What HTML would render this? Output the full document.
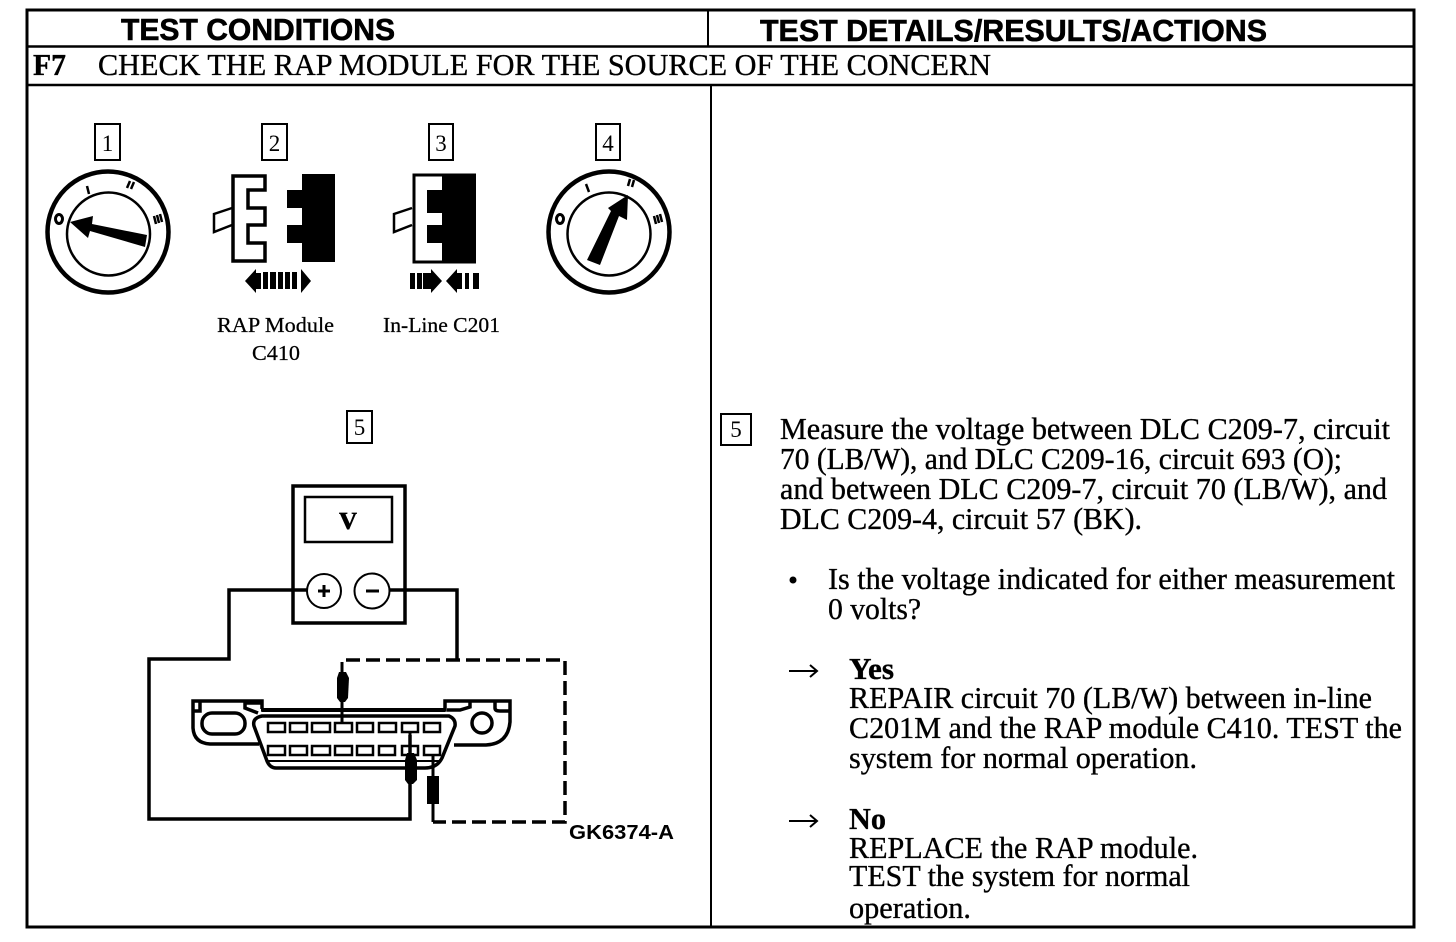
<!DOCTYPE html>
<html><head><meta charset="utf-8">
<style>
html,body{margin:0;padding:0;background:#fff;width:1456px;height:942px;overflow:hidden}
svg{display:block}
.t{font-family:"Liberation Serif",serif;font-size:30.5px;fill:#000;stroke:#000;stroke-width:.35}
.s{font-family:"Liberation Serif",serif;font-size:21.5px;fill:#000;stroke:#000;stroke-width:.25}
.h{font-family:"Liberation Sans",sans-serif;font-weight:bold;font-size:31px;fill:#000;stroke:#000;stroke-width:.6}
.n{font-family:"Liberation Serif",serif;font-size:23px;fill:#000;text-anchor:middle}
.l{fill:none;stroke:#000}
</style></head><body>
<svg width="1456" height="942" viewBox="0 0 1456 942" xmlns="http://www.w3.org/2000/svg">
<rect width="1456" height="942" fill="#fff"/>
<!-- frame -->
<path class="l" stroke-width="3" d="M27 10H1414V927H27Z"/>
<path class="l" stroke-width="2.5" d="M27 46.5H1414M27 85H1414"/>
<path class="l" stroke-width="2" d="M708 10V46M711 85V927"/>
<!-- headers -->
<text class="h" x="121" y="40" textLength="274" lengthAdjust="spacingAndGlyphs">TEST CONDITIONS</text>
<text class="h" x="760" y="41" textLength="507" lengthAdjust="spacingAndGlyphs">TEST DETAILS/RESULTS/ACTIONS</text>
<text class="t" x="33" y="75" textLength="33" lengthAdjust="spacingAndGlyphs" style="font-weight:bold">F7</text>
<text class="t" x="98" y="75" textLength="893" lengthAdjust="spacingAndGlyphs">CHECK THE RAP MODULE FOR THE SOURCE OF THE CONCERN</text>
<!-- number boxes -->
<g class="l" stroke-width="2">
<rect x="95" y="124" width="25" height="36"/>
<rect x="262" y="124" width="25" height="36"/>
<rect x="429" y="124" width="24" height="36"/>
<rect x="596" y="124" width="24" height="36"/>
<rect x="347" y="411" width="25" height="32"/>
<rect x="721" y="414" width="30" height="31"/>
</g>
<text class="n" x="107.500" y="151">1</text>
<text class="n" x="274.500" y="151">2</text>
<text class="n" x="441" y="151">3</text>
<text class="n" x="608" y="151">4</text>
<text class="n" x="359.500" y="435">5</text>
<text class="n" x="736" y="437">5</text>
<!-- key 1 -->
<circle class="l" cx="108" cy="232" r="60.500" stroke-width="4.500"/>
<circle class="l" cx="108.500" cy="234" r="41.500" stroke-width="2.500"/>
<polygon points="70,222 93,216 92,224 147,235 145,247 90,231 88,238"/>
<g class="l" stroke-width="2.500">
<path d="M87 186L89 194"/>
<path d="M127 188L130 181M131 189L134 182"/>
<ellipse cx="59" cy="219" rx="3.500" ry="4.500" stroke-width="3"/>
<path d="M154 216L156 224M157 215L159 223M160 214L162 222"/>
</g>
<!-- key 4 -->
<circle class="l" cx="609" cy="232" r="60.500" stroke-width="4.500"/>
<circle class="l" cx="609" cy="234" r="41.500" stroke-width="2.500"/>
<polygon points="628,195 627,220 619,216 600,265 587,260 611,211 608,208"/>
<g class="l" stroke-width="2.500">
<path d="M586 184L589 192"/>
<path d="M628 186L630 179M632 187L634 180"/>
<ellipse cx="560" cy="219" rx="3.500" ry="4.500" stroke-width="3"/>
<path d="M654 216L656 224M657 215L659 223M660 214L662 222"/>
</g>
<!-- connector 2 -->
<path class="l" stroke-width="3.500" d="M233 176H265V190H248V208H265V225H248V243H265V261H233Z"/>
<path class="l" stroke-width="2.500" d="M232 208L214 214V232L232 225"/>
<path d="M302 174H335V262H302V243H287V225H302V208H287V190H302Z"/>
<polygon points="245,281 256,269 256,273 261,273 261,289 256,289 256,293"/>
<path d="M263 272h5v17h-5zM270 272h6v17h-6zM278 272h5v17h-5zM285 272h5v17h-5zM292 272h5v17h-5z"/>
<polygon points="311,281 301,269 301,293"/>
<!-- connector 3 -->
<path d="M442 175H476V262H442V243H427V225H442V213H427V190H442Z"/>
<path class="l" stroke-width="3" d="M476 175H414V262H476"/>
<path class="l" stroke-width="2.500" d="M412 208L394 214V232L412 225"/>
<path d="M410 273h5v16h-5zM417 273h5v16h-5zM423 273h9v16h-9z"/>
<polygon points="442,281 431,269 431,293"/>
<polygon points="446,281 457,269 457,293"/>
<path d="M457 273h5v16h-5zM465 273h4v16h-4zM473 273h6v16h-6z"/>
<!-- labels -->
<text class="s" x="217" y="332" textLength="117" lengthAdjust="spacingAndGlyphs">RAP Module</text>
<text class="s" x="252" y="360" textLength="48" lengthAdjust="spacingAndGlyphs">C410</text>
<text class="s" x="383" y="332" textLength="117" lengthAdjust="spacingAndGlyphs">In-Line C201</text>
<!-- meter -->
<rect class="l" x="293" y="486" width="112" height="137" stroke-width="3.500"/>
<rect class="l" x="305" y="497" width="87" height="45" stroke-width="2.500"/>
<text x="348" y="529" text-anchor="middle" style="font-family:'Liberation Serif',serif;font-weight:bold;font-size:36px">v</text>
<circle class="l" cx="324" cy="591" r="17" stroke-width="2"/>
<circle class="l" cx="372" cy="591" r="17.500" stroke-width="2"/>
<path class="l" stroke-width="3" d="M318 591H330M324 585V597M366 591H379"/>
<!-- wires -->
<path class="l" stroke-width="3.500" d="M307 590H229V659H149V819H410V735"/>
<path class="l" stroke-width="3.500" d="M390 590H457V660"/>
<path class="l" stroke-width="3.500" stroke-dasharray="14 6" d="M346 660H565V822H433"/>
<path class="l" stroke-width="3" d="M342 662V724"/>
<polygon points="339,672 346,672 349,678 348,698 345,702 340,702 337,698 337,678"/>
<!-- DLC connector -->
<g class="l" stroke-width="3.500">
<path d="M262 709V701H193V728Q194 743 210 744H259"/>
<path d="M261 710H445V701H510V722Q508 744 486 745H454"/>
<path d="M246 703H262M245 701V708L258 713"/>
<path d="M193 711H200V701"/>
<path d="M495 701V708Q495 711 500 711H510M470 701V707L460 710H447"/>
<path d="M262 716Q252 718 254 726L267 761Q270 768 276 768H425Q437 768 442 758L455 726Q456 719 449 716Z"/>
<rect x="202" y="713" width="43" height="21" rx="10"/>
<circle cx="482" cy="723" r="10"/>
</g>
<path class="l" stroke-width="2" d="M268 761H441"/>
<path class="l" stroke-width="4" d="M262 710H445"/>
<g class="l" stroke-width="2.500">
<rect x="268" y="723" width="17" height="9"/><rect x="290" y="723" width="17" height="9"/><rect x="312" y="723" width="18" height="9"/><rect x="335" y="723" width="17" height="9"/><rect x="357" y="723" width="16" height="9"/><rect x="379" y="723" width="17" height="9"/><rect x="402" y="723" width="16" height="9"/><rect x="424" y="723" width="16" height="9"/>
<rect x="268" y="746" width="17" height="9"/><rect x="290" y="746" width="17" height="9"/><rect x="312" y="746" width="18" height="9"/><rect x="335" y="746" width="17" height="9"/><rect x="357" y="746" width="16" height="9"/><rect x="379" y="746" width="16" height="9"/><rect x="402" y="746" width="16" height="9"/><rect x="424" y="746" width="16" height="9"/>
</g>
<!-- probes -->
<path class="l" stroke-width="3" d="M410 732V820M433 755V822"/>
<polygon points="407,753 414,753 417,760 417,780 413,784 408,784 405,780 405,760"/>
<rect x="427" y="776" width="12" height="28"/>
<text x="569" y="839" textLength="105" lengthAdjust="spacingAndGlyphs" style="font-family:'Liberation Sans',sans-serif;font-weight:bold;font-size:20.500px">GK6374-A</text>
<!-- right text -->
<g class="t">
<text x="780" y="439" textLength="610" lengthAdjust="spacingAndGlyphs">Measure the voltage between DLC C209-7, circuit</text>
<text x="780" y="469" textLength="562" lengthAdjust="spacingAndGlyphs">70 (LB/W), and DLC C209-16, circuit 693 (O);</text>
<text x="780" y="499" textLength="607" lengthAdjust="spacingAndGlyphs">and between DLC C209-7, circuit 70 (LB/W), and</text>
<text x="780" y="529" textLength="362" lengthAdjust="spacingAndGlyphs">DLC C209-4, circuit 57 (BK).</text>
<text x="828" y="589" textLength="567" lengthAdjust="spacingAndGlyphs">Is the voltage indicated for either measurement</text>
<text x="828" y="619" textLength="93" lengthAdjust="spacingAndGlyphs">0 volts?</text>
<text x="849" y="679" textLength="45" lengthAdjust="spacingAndGlyphs" style="font-weight:bold">Yes</text>
<text x="849" y="708" textLength="523" lengthAdjust="spacingAndGlyphs">REPAIR circuit 70 (LB/W) between in-line</text>
<text x="849" y="738" textLength="553" lengthAdjust="spacingAndGlyphs">C201M and the RAP module C410. TEST the</text>
<text x="849" y="768" textLength="348" lengthAdjust="spacingAndGlyphs">system for normal operation.</text>
<text x="849" y="829" textLength="37" lengthAdjust="spacingAndGlyphs" style="font-weight:bold">No</text>
<text x="849" y="858" textLength="349" lengthAdjust="spacingAndGlyphs">REPLACE the RAP module.</text>
<text x="849" y="886" textLength="341" lengthAdjust="spacingAndGlyphs">TEST the system for normal</text>
<text x="849" y="918" textLength="122" lengthAdjust="spacingAndGlyphs">operation.</text>
</g>
<circle cx="793" cy="580" r="3.500"/>
<path class="l" stroke-width="2" d="M789 671H816M810 665L817 671L810 677M789 821H816M810 815L817 821L810 827"/>
</svg>
</body></html>
